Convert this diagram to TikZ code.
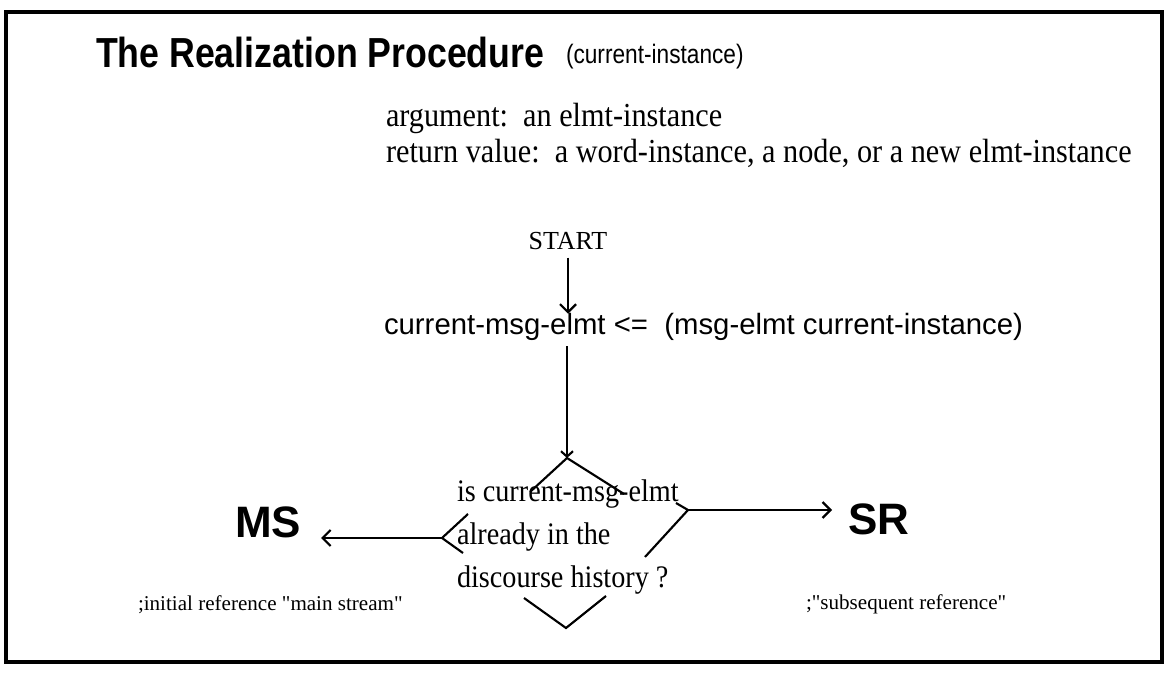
\documentclass[tikz,border=0pt]{standalone}
\usepackage{fontspec}
\setmainfont{Liberation Serif}
\setsansfont{Liberation Sans}
\newfontfamily\headfont[FakeStretch=0.85]{Liberation Sans}
\newfontfamily\narrowserif[FakeStretch=0.9]{Liberation Serif}
\usetikzlibrary{arrows.meta}
\begin{document}
\begin{tikzpicture}[x=0.75pt,y=-0.75pt,
        line width=1.6pt,
        >={Straight Barb[length=6pt,width=12pt]},
        every node/.style={inner sep=0pt,outer sep=0pt},
        serif/.style={font=\fontsize{23.5}{32}\narrowserif},
        big/.style={font=\fontsize{33}{38}\selectfont\sffamily\bfseries},
        note/.style={font=\fontsize{15.8}{19}\selectfont}]
    \useasboundingbox (0,0) rectangle (1167,673);
    \draw[line width=2.4pt] (6,12) rectangle (1162,662);
    \node[anchor=base west,font=\fontsize{31.5}{36}\headfont\bfseries] (title) at (96,68) {The Realization Procedure};
    \node[anchor=base west,font=\fontsize{20}{24}\headfont] (inst) at (566,64) {(current-instance)};
    \node[anchor=base west,font=\fontsize{25.2}{30}\narrowserif] (arg) at (386,127) {argument:\ \ an elmt-instance};
    \node[anchor=base west,font=\fontsize{25.2}{30}\narrowserif] (ret) at (386,163) {return value:\ \ a word-instance, a node, or a new elmt-instance};
    \node[font=\fontsize{19.5}{22}\selectfont] (start) at (568,241) {START};
    \node[anchor=base west,font=\fontsize{22}{26}\selectfont\sffamily] (assign) at (384,335) {current-msg-elmt \textless=\ \ (msg-elmt current-instance)};
    \node[anchor=base west,align=left,serif] (quest) at (457,587) {is current-msg-elmt\\already in the\\discourse history ?};
    \node[anchor=base west,big] (ms) at (235,537) {MS};
    \node[anchor=base west,big] (sr) at (848,534) {SR};
    \node[anchor=base west,note] (msnote) at (138,610) {;initial reference \textquotedbl main stream\textquotedbl};
    \node[anchor=base west,note] (srnote) at (806,609) {;\textquotedbl subsequent reference\textquotedbl};
    \coordinate (dtop) at (567,458);
    \coordinate (dleft) at (442,538);
    \coordinate (dright) at (688,510);
    \coordinate (dbot) at (566,628);
    \draw (530,492) -- (dtop) -- (624,494);
    \draw (468,514) -- (dleft) -- (463,553);
    \draw (676,503) -- (dright) -- (645,557);
    \draw (524,598) -- (dbot) -- (606,596);
    \draw[->,shorten <=6pt] (start) -- (start |- assign.north);
    \draw[->,shorten <=4pt,>={Straight Barb[length=4pt,width=9pt]}] (assign.south -| dtop) -- (dtop);
    \draw[->,shorten >=15pt] (dleft) -- (dleft -| ms.east);
    \draw[->,shorten >=12pt] (dright) -- (dright -| sr.west);
\end{tikzpicture}
\end{document}
